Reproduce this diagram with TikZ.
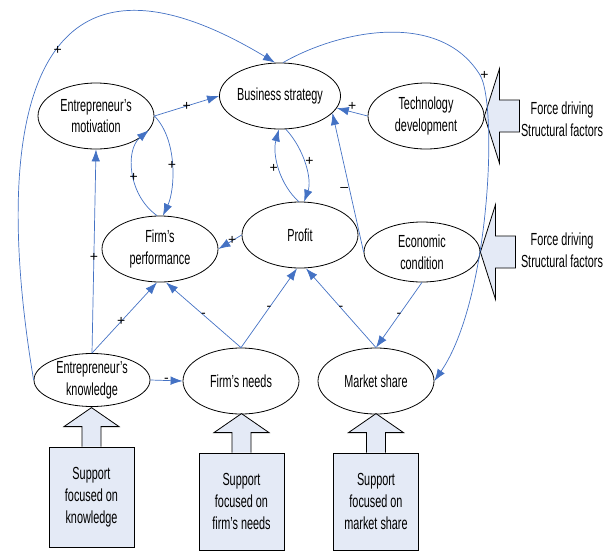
\documentclass[tikz,border=0pt]{standalone}
\usepackage{fontspec}
\setmainfont{Liberation Sans}[FakeStretch=0.62]
\newfontfamily\signfont{Liberation Sans}
\usepackage{tikz}
\usetikzlibrary{positioning,arrows.meta,shapes.geometric}
\definecolor{linkblue}{RGB}{68,114,196}
\definecolor{supportfill}{RGB}{228,234,246}
\tikzset{
    factornode/.style={draw, ellipse, align=center, inner sep=0pt, minimum width=116pt, minimum height=66pt, font=\fontsize{17.5}{21.7}\selectfont, line width=0.8pt},
    supportbox/.style={draw, rectangle, align=center, minimum width=85pt, minimum height=100pt, fill=supportfill, font=\fontsize{17.5}{21.7}\selectfont, line width=0.8pt},
    drivetext/.style={align=center, font=\fontsize{17.5}{21.7}\selectfont},
    linkarrow/.style={draw=linkblue, line width=0.7pt, -{Latex[length=12pt,width=8.5pt]}, linkblue},
    signlabel/.style={font=\signfont\fontsize{14}{14}\selectfont, inner sep=1pt, text=black},
    blockarrow/.style={draw, fill=supportfill, line width=0.8pt}
}
\newcommand{\supportarrow}[1]{%
    \draw[blockarrow] ([xshift=-9.5pt]#1.north) -- ++(0,-20) -- ++(-18,0) -- ++(27.5,-19) -- ++(27.5,19) -- ++(-18,0) -- ++(0,20);}
\newcommand{\forcearrow}[1]{%
    \draw[blockarrow] (#1) -- ++(15,-47) -- ++(0,31) -- ++(20,0) -- ++(0,32) -- ++(-20,0) -- ++(0,31) -- cycle;}

\begin{document}
\begin{tikzpicture}[x=1pt, y=-1pt]
    \useasboundingbox (0,0) rectangle (611,552);

    % factors
    \node[factornode] (motiv) at (96,116) {Entrepreneur's\\motivation};
    \node[factornode] (strategy) at (280,96) {Business strategy};
    \node[factornode] (techdev) at (426,116) {Technology\\development};
    \node[factornode] (perf) at (160,249) {Firm's\\performance};
    \node[factornode] (profit) at (300,235) {Profit};
    \node[factornode, minimum height=60pt] (econ) at (422,252) {Economic\\condition};
    \node[factornode, minimum height=53pt] (know) at (92,380) {Entrepreneur's\\knowledge};
    \node[factornode] (needs) at (241,381) {Firm's needs};
    \node[factornode] (market) at (376,381) {Market share};

    % support
    \node[supportbox] (knowbox) at (91.5,497) {Support\\focused on\\knowledge};
    \node[supportbox, minimum height=97pt] (needsbox) at (241.5,501.5) {Support\\focused on\\firm's needs};
    \node[supportbox, minimum height=97pt] (marketbox) at (376,501.5) {Support\\focused on\\market share};
    \foreach \b in {knowbox,needsbox,marketbox}
        {\supportarrow{\b}}

    % structural forces
    \forcearrow{techdev.east}
    \forcearrow{econ.east}
    \node[drivetext] (drive1) at (562,119) {Force driving\\Structural factors};
    \node[drivetext] (drive2) at (562,250) {Force driving\\Structural factors};

    % links
    \draw[linkarrow] (know.west) .. controls (-10,120) and (30,-85) .. node[signlabel, pos=0.55] {+} ([xshift=-5pt]strategy.north);
    \draw[linkarrow] ([xshift=3pt]strategy.north) .. controls (340,30) and (440,10) .. (480,75) node[signlabel, pos=1, right=-1pt] {+}
        .. controls (498,105) and (490,300) .. (market.east);
    \draw[linkarrow] (motiv.east) -- node[signlabel] {+} (strategy.west);
    \draw[linkarrow] (motiv.east) .. controls (178,140) and (175,190) .. node[signlabel] {+} (perf.85);
    \draw[linkarrow] (perf.95) .. controls (128,195) and (125,150) .. node[signlabel, pos=0.45] {+} (motiv.-15);
    \draw[linkarrow] (know.north) -- node[signlabel, pos=0.47] {+} (motiv.south);
    \draw[linkarrow] (know.north) -- node[signlabel, pos=0.45] {+} ([xshift=-3pt]perf.south);
    \draw[linkarrow] (needs.north) -- node[signlabel] {-} ([xshift=6pt]perf.south);
    \draw[linkarrow] (needs.north) -- node[signlabel] {-} ([xshift=-3pt]profit.south);
    \draw[linkarrow] (know.east) -- node[signlabel] {-} (needs.west);
    \draw[linkarrow] (profit.west) -- node[signlabel, pos=0.4] {+} (perf.east);
    \draw[linkarrow] (strategy.-80) .. controls (305,150) and (312,180) .. node[signlabel, pos=0.45, right] {+} (profit.83);
    \draw[linkarrow] (profit.92) .. controls (280,185) and (272,155) .. node[signlabel, pos=0.5, left] {+} (strategy.-92);
    \draw[linkarrow] (techdev.west) -- node[signlabel, above] {+} (strategy.-12);
    \draw[linkarrow] (econ.west) -- node[signlabel, left, pos=0.45] {–} (strategy.-18);
    \draw[linkarrow] (market.north) -- node[signlabel] {-} ([xshift=6pt]profit.south);
    \draw[linkarrow] (econ.south) -- node[signlabel] {-} (market.north);
\end{tikzpicture}
\end{document}
